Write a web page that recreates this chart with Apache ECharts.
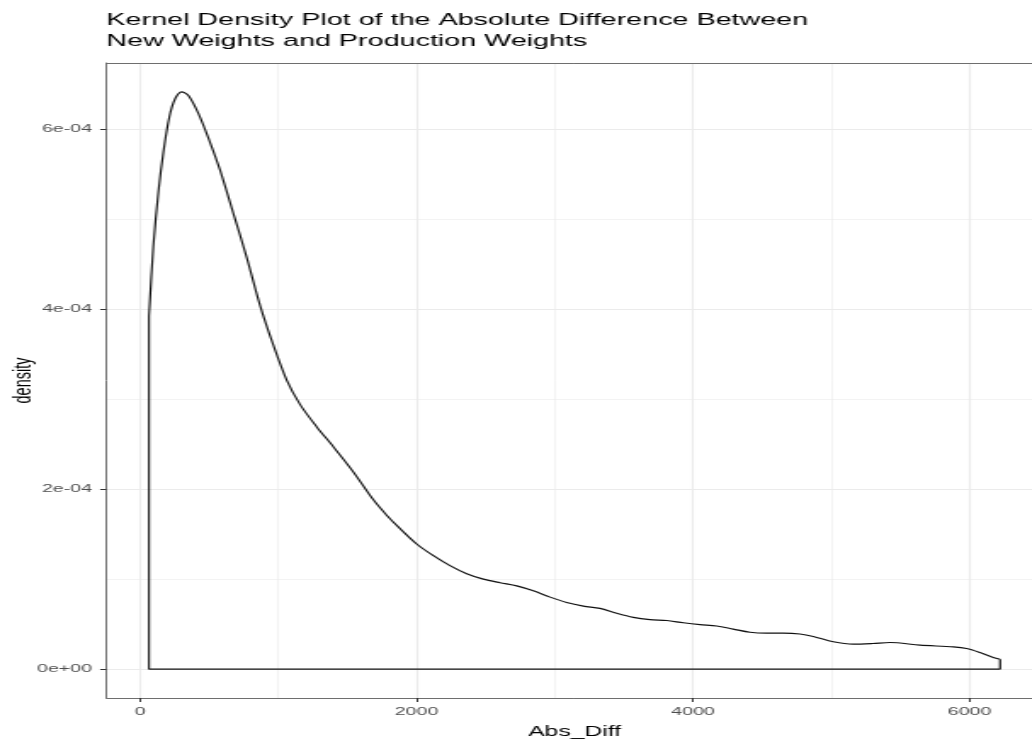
<!DOCTYPE html>
<html><head><meta charset="utf-8">
<script src="https://cdn.jsdelivr.net/npm/echarts@6/dist/echarts.min.js"></script>
<style>
html,body{margin:0;padding:0;overflow:hidden;background:#fff;width:1032px;height:740px;}
#c{position:absolute;left:0;top:0;width:620px;height:740px;transform:scaleX(1.7);transform-origin:0 0;}
</style></head><body><div id="c"></div>
<script>
// Kernel density estimate (x = Abs_Diff, y = density)
const absDiff = [65, 96, 133, 169, 212, 253, 301, 350, 422, 506, 579, 675, 772, 868, 964, 1061, 1157, 1278, 1398, 1543, 1688, 1784, 1881, 2001, 2122, 2242, 2363, 2483, 2604, 2725, 2845, 2966, 3086, 3207, 3327, 3448, 3568, 3689, 3809, 3930, 4051, 4171, 4291, 4412, 4533, 4653, 4774, 4870, 5015, 5159, 5300, 5425, 5642, 5883, 5979, 6076, 6172, 6221];
const density = [0.000392, 0.000469, 0.000530, 0.000574, 0.000613, 0.000633, 0.000641, 0.000637, 0.000617, 0.000585, 0.000554, 0.000506, 0.000457, 0.000404, 0.000360, 0.000321, 0.000294, 0.000269, 0.000247, 0.000219, 0.000188, 0.000171, 0.000156, 0.000139, 0.000126, 0.000115, 0.000106, 0.000100, 0.000096, 0.0000925, 0.000087, 0.000080, 0.000074, 0.000070, 0.0000675, 0.000062, 0.0000575, 0.000055, 0.000054, 0.0000515, 0.0000495, 0.000048, 0.0000445, 0.000041, 0.000040, 0.000040, 0.000039, 0.0000363, 0.0000304, 0.0000278, 0.0000285, 0.0000296, 0.0000267, 0.0000248, 0.000023, 0.0000185, 0.000013, 0.000011];

const xTicks = [0, 2000, 4000, 6000];
const xTickLabels = ['0', '2000', '4000', '6000'];
const xMinor = [1000, 3000, 5000];
const yTicks = [0, 0.0002, 0.0004, 0.0006];
const yTickLabels = ['0e+00', '2e-04', '4e-04', '6e-04'];
const yMinor = [0.0001, 0.0003, 0.0005];
const xRange = [-243, 6529];
const yRange = [-0.000032, 0.000673];

const titleText = 'Kernel Density Plot of the Absolute Difference Between\nNew Weights and Production Weights';
const xName = 'Abs_Diff';
const yName = 'density';

const FONT = '"Liberation Sans", Arial, Helvetica, sans-serif';
const BORDER = {show: true, onZero: false, lineStyle: {color: '#6e6e6e', width: 1}};

const curve = absDiff.map((x, i) => [x, density[i]]);
const n = absDiff.length;
const outline = [
  [absDiff[0], density[0]],
  [absDiff[0], 0],
  [absDiff[n - 1], 0],
  [absDiff[n - 1], density[n - 1]]
];

function pick(ticks, labels) {
  return function (v) {
    for (let i = 0; i < ticks.length; i++) {
      if (Math.abs(ticks[i] - v) < Math.abs(ticks[1] - ticks[0]) * 1e-6) return labels[i];
    }
    return '';
  };
}

const chart = echarts.init(document.getElementById('c'), null, {renderer: 'canvas'});
chart.setOption({
  animation: false,
  backgroundColor: '#ffffff',
  title: {
    text: titleText,
    left: 62.6,
    top: 9.5,
    padding: 0,
    textStyle: {fontFamily: FONT, fontSize: 16.9, fontWeight: 'normal', color: '#000', lineHeight: 21}
  },
  grid: {
    left: 62.6, right: 6.7, top: 63, bottom: 42,
    show: false, containLabel: false, outerBoundsMode: 'none'
  },
  xAxis: [
    {
      type: 'value', min: xRange[0], max: xRange[1], position: 'bottom',
      axisLine: BORDER,
      axisTick: {show: true, length: 4, lineStyle: {color: '#333', width: 1}, customValues: xTicks},
      axisLabel: {customValues: xTicks, formatter: pick(xTicks, xTickLabels), color: '#4d4d4d',
        fontFamily: FONT, fontSize: 11.5, margin: 8},
      splitLine: {show: true, lineStyle: {color: '#ebebeb', width: 1.1}},
      name: xName, nameLocation: 'middle', nameGap: 26, nameMoveOverlap: false,
      nameTextStyle: {fontFamily: FONT, fontSize: 14.5, color: '#000'}
    },
    {
      type: 'value', min: xRange[0], max: xRange[1], position: 'top',
      axisLine: BORDER,
      axisTick: {show: false, customValues: xMinor},
      axisLabel: {show: false, customValues: xMinor},
      splitLine: {show: true, lineStyle: {color: '#ebebeb', width: 0.6}}
    }
  ],
  yAxis: [
    {
      type: 'value', min: yRange[0], max: yRange[1], position: 'left',
      axisLine: BORDER,
      axisTick: {show: true, length: 3.7, lineStyle: {color: '#333', width: 1}, customValues: yTicks},
      axisLabel: {customValues: yTicks, formatter: pick(yTicks, yTickLabels), color: '#4d4d4d',
        fontFamily: FONT, fontSize: 11.5, margin: 8.5},
      splitLine: {show: true, lineStyle: {color: '#ebebeb', width: 1.1}},
      name: yName, nameLocation: 'middle', nameRotate: 90, nameGap: 41, nameMoveOverlap: false,
      nameTextStyle: {fontFamily: FONT, fontSize: 14.5, color: '#000'}
    },
    {
      type: 'value', min: yRange[0], max: yRange[1], position: 'right',
      axisLine: {show: false},
      axisTick: {show: false, customValues: yMinor},
      axisLabel: {show: false, customValues: yMinor},
      splitLine: {show: true, lineStyle: {color: '#ebebeb', width: 0.6}}
    }
  ],
  series: [
    {
      type: 'line', xAxisIndex: 0, yAxisIndex: 0, data: outline,
      showSymbol: false, symbol: 'none', smooth: false,
      lineStyle: {color: '#111', width: 1.15}, z: 3, silent: true
    },
    {
      type: 'line', xAxisIndex: 0, yAxisIndex: 0, data: curve,
      showSymbol: false, symbol: 'none', smooth: 0.3,
      lineStyle: {color: '#111', width: 1.15}, z: 3, silent: true
    }
  ]
});
</script></body></html>
